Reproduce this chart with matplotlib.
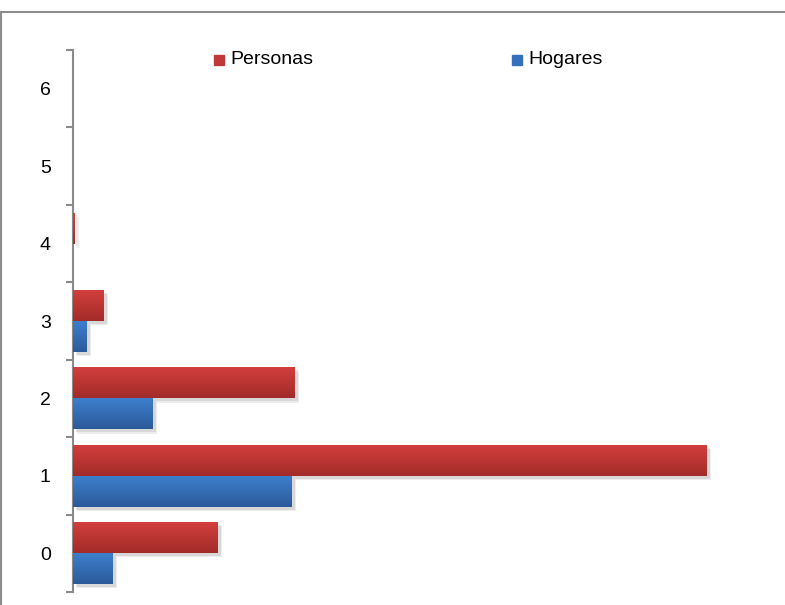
import matplotlib
matplotlib.use("Agg")
import matplotlib.pyplot as plt
import matplotlib.patheffects as pe
from matplotlib.patches import Rectangle
from matplotlib.colors import LinearSegmentedColormap
import numpy as np

# data (arbitrary units)
categories = ["0", "1", "2", "3", "4", "5", "6"]
personas = [145, 634, 222, 31, 1.5, 0, 0]
hogares = [40, 219, 80, 14, 0, 0, 0]

C_RED_TOP, C_RED_BOT = "#D23F3C", "#A22B29"
C_BLUE_TOP, C_BLUE_BOT = "#3D7FCD", "#2B5A9A"
C_AXIS = "#8A8A8A"

plt.rcParams["font.family"] = ["Liberation Sans Narrow", "Liberation Sans", "DejaVu Sans"]

fig = plt.figure(figsize=(7.85, 6.05), dpi=100)
ax = fig.add_axes([73 / 785, 1 - 592 / 605, (760 - 73) / 785, (592 - 50) / 605])

# outer chart frame (cut off right and bottom)
fig.patches.append(Rectangle((1 / 785, -0.1), 1.2, (605 - 12) / 605 + 0.1,
                             transform=fig.transFigure, fill=False,
                             edgecolor="#8C8C8C", lw=1.5))

y = np.arange(len(categories))
h = 0.4
bars_p = ax.barh(y + h / 2, personas, height=h, color=C_RED_BOT, zorder=2)
bars_h = ax.barh(y - h / 2, hogares, height=h, color=C_BLUE_BOT, zorder=2)


def shade(bars, top, bot):
    cmap = LinearSegmentedColormap.from_list("g", [bot, top])
    grad = np.linspace(0, 1, 64).reshape(-1, 1)
    for b in bars:
        if b.get_width() <= 0:
            continue
        b.set_path_effects([pe.SimplePatchShadow(offset=(3, -3), alpha=0.15,
                                                 shadow_rgbFace="#888888"),
                            pe.SimplePatchShadow(offset=(2, -2), alpha=0.2,
                                                 shadow_rgbFace="#888888"),
                            pe.Normal()])
        x0, y0 = b.get_x(), b.get_y()
        im = ax.imshow(grad, cmap=cmap, aspect="auto", origin="lower",
                       extent=(x0, x0 + b.get_width(), y0, y0 + b.get_height()),
                       zorder=3, interpolation="bilinear")
        im.set_clip_path(b)


shade(bars_p, C_RED_TOP, C_RED_BOT)
shade(bars_h, C_BLUE_TOP, C_BLUE_BOT)

ax.set_xlim(0, 760 - 73)
ax.set_ylim(-0.5, len(categories) - 0.5)
ax.set_yticks(y)
ax.set_yticklabels(categories, fontsize=14)
ax.set_yticks(np.arange(-0.5, len(categories)), minor=True)
ax.tick_params(axis="y", which="major", length=0, pad=16)
ax.tick_params(axis="y", which="minor", length=5, width=1.5, color=C_AXIS)
ax.set_xticks([])

for s in ["top", "right", "bottom"]:
    ax.spines[s].set_visible(False)
ax.spines["left"].set_color(C_AXIS)
ax.spines["left"].set_linewidth(1.5)

# legend
legend_items = [("Personas", "#C0393A", 214), ("Hogares", "#3470BC", 512)]
for label, col, px in legend_items:
    fig.patches.append(Rectangle((px / 785, 1 - 65 / 605), 10 / 785, 10 / 605,
                                 transform=fig.transFigure, color=col))
    fig.text((px + 16) / 785, 1 - 59 / 605, label, fontsize=14,
             va="center", ha="left")

fig.savefig("out.png", dpi=100, facecolor="white")
